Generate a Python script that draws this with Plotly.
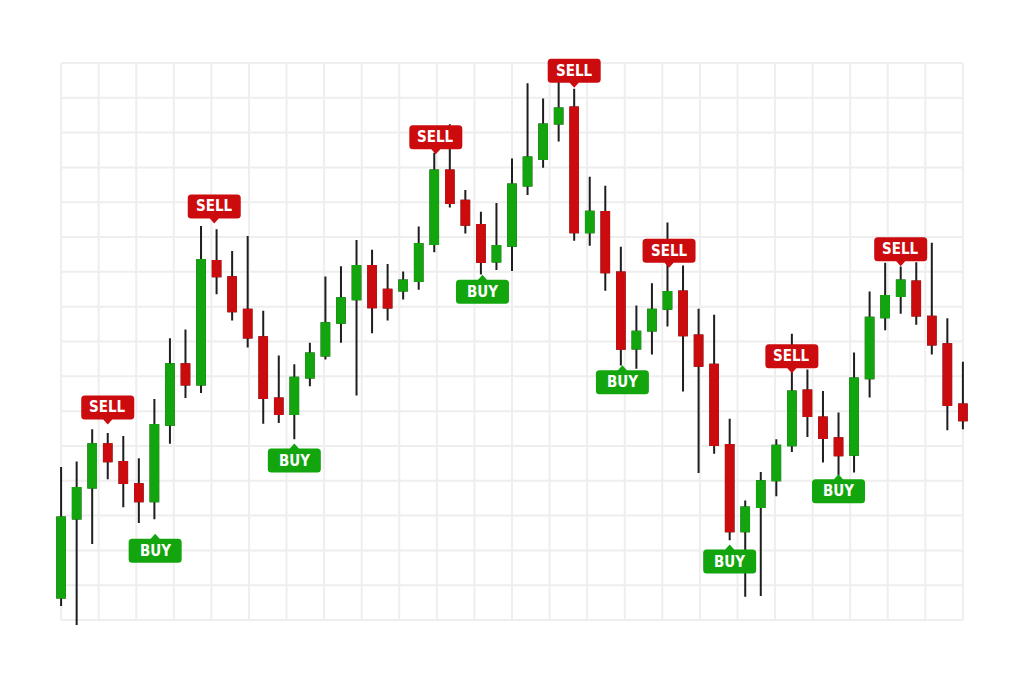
import plotly.graph_objects as go

# ---- data (price units) ----
open_ = [6.51, 29.16, 38.05, 50.47, 45.39, 39.00, 34.12, 56.12, 73.49, 67.67,
         103.14, 98.44, 89.09, 81.23, 63.66, 59.15, 69.68, 75.99, 85.36, 92.13,
         101.71, 94.83, 94.62, 97.41, 108.01, 129.12, 120.43, 113.46, 102.94, 107.53,
         124.82, 132.39, 142.60, 147.18, 111.34, 117.19, 99.79, 77.99, 83.15, 89.38,
         94.34, 81.72, 73.32, 50.27, 25.52, 32.49, 40.14, 50.18, 65.95, 58.21,
         52.19, 47.51, 69.48, 86.97, 93.10, 97.21, 87.08, 79.23, 61.94]
close = [29.45, 37.94, 50.47, 45.59, 39.37, 34.12, 56.00, 73.49, 67.67, 103.43,
         98.72, 88.69, 81.15, 63.74, 59.15, 69.59, 76.56, 85.25, 92.42, 101.71,
         89.84, 89.75, 97.49, 108.01, 129.12, 119.77, 113.55, 102.85, 107.44, 125.10,
         132.85, 142.31, 146.90, 111.34, 117.28, 99.87, 77.91, 82.78, 89.09, 94.25,
         81.81, 73.03, 50.27, 25.52, 32.32, 39.86, 50.09, 65.66, 58.58, 52.27,
         47.31, 69.39, 86.80, 93.10, 97.49, 87.46, 79.14, 61.74, 57.35]
high = [43.96, 45.51, 54.77, 53.71, 52.85, 46.45, 63.46, 80.95, 83.44, 113.18,
        112.20, 106.01, 110.31, 88.80, 75.99, 73.49, 79.63, 98.64, 101.59, 109.16,
        106.38, 102.28, 100.07, 113.06, 134.19, 142.42, 123.50, 117.28, 119.77, 132.56,
        154.18, 149.77, 154.84, 152.55, 127.31, 124.73, 107.24, 90.32, 96.72, 114.21,
        101.79, 89.38, 87.66, 57.83, 34.32, 42.52, 51.90, 82.21, 71.97, 65.75,
        59.64, 76.85, 94.34, 102.65, 101.51, 102.74, 108.39, 86.68, 74.18]
low = [4.01, -1.43, 21.88, 40.43, 32.40, 27.90, 28.96, 50.67, 63.74, 65.18,
       93.56, 86.02, 78.28, 56.40, 56.57, 51.90, 67.18, 74.84, 79.63, 64.52,
       82.38, 86.02, 92.04, 94.83, 105.61, 118.51, 111.05, 99.21, 100.56, 100.27,
       122.07, 129.89, 137.43, 108.96, 107.53, 94.54, 73.12, 72.17, 76.27, 84.30,
       65.66, 42.24, 47.80, 22.94, 6.68, 6.88, 35.56, 48.26, 52.56, 45.22,
       41.58, 42.35, 63.94, 83.24, 87.94, 84.79, 76.27, 54.48, 54.77]
idx = list(range(len(open_)))

# signal labels: position (candle index) and level of the pointer tip
sell_pos = [3.0, 9.85, 24.1, 33.0, 39.1, 47.0, 54.0]
sell_lvl = [56.2, 113.9, 133.8, 152.9, 101.2, 70.9, 101.6]
buy_pos = [6.05, 15.0, 27.1, 36.1, 43.0, 50.0]
buy_lvl = [24.8, 50.7, 99.2, 73.2, 21.7, 41.9]

# grid
grid_x = [i * 58 / 24 for i in range(25)]
grid_y = [i * 10 for i in range(17)]

GREEN = "#12a50d"
RED = "#cc0b0e"
WICK = "#1e1e1e"
GRID = "#eeeeee"

body_hi = [max(o, c) for o, c in zip(open_, close)]
body_lo = [min(o, c) for o, c in zip(open_, close)]

fig = go.Figure()
fig.add_trace(go.Candlestick(
    x=idx, open=open_, high=high, low=low, close=close,
    increasing=dict(line=dict(color=WICK, width=2), fillcolor=WICK),
    decreasing=dict(line=dict(color=WICK, width=2), fillcolor=WICK),
    whiskerwidth=0, hoverinfo="skip", showlegend=False))
fig.add_trace(go.Candlestick(
    x=idx, open=open_, high=body_hi, low=body_lo, close=close,
    increasing=dict(line=dict(color=GREEN, width=2), fillcolor=GREEN),
    decreasing=dict(line=dict(color=RED, width=2), fillcolor=RED),
    whiskerwidth=0, hoverinfo="skip", showlegend=False))

shapes = []
for gx in grid_x:
    shapes.append(dict(type="line", xref="x", yref="y", x0=gx, x1=gx,
                       y0=grid_y[0], y1=grid_y[-1], layer="below",
                       line=dict(color=GRID, width=2)))
for gy in grid_y:
    shapes.append(dict(type="line", xref="x", yref="y", x0=grid_x[0], x1=grid_x[-1],
                       y0=gy, y1=gy, layer="below",
                       line=dict(color=GRID, width=2)))


def bubble_path(s):
    """Rounded label box with a small pointer; pixel offsets from the tip.
    s = +1 box above the tip, s = -1 box below the tip."""
    w, h, r, g, pw = 26.5, 24, 3.5, 5, 4.5
    y0, y1 = s * g, s * (g + h)
    yr0, yr1 = s * (g + r), s * (g + h - r)
    return (f"M{-w + r},{y0} L{-pw},{y0} L0,0 L{pw},{y0} L{w - r},{y0} "
            f"Q{w},{y0} {w},{yr0} L{w},{yr1} Q{w},{y1} {w - r},{y1} "
            f"L{-w + r},{y1} Q{-w},{y1} {-w},{yr1} L{-w},{yr0} "
            f"Q{-w},{y0} {-w + r},{y0} Z")


FONT = "Liberation Sans Narrow, DejaVu Sans Condensed, Arial Narrow, sans-serif"
annotations = []
for txt, poss, lvls, col, s in (("SELL", sell_pos, sell_lvl, RED, 1),
                                ("BUY", buy_pos, buy_lvl, GREEN, -1)):
    for p, lv in zip(poss, lvls):
        shapes.append(dict(type="path", xref="x", yref="y",
                           xsizemode="pixel", ysizemode="pixel",
                           xanchor=p, yanchor=lv, path=bubble_path(s),
                           fillcolor=col, line=dict(width=0), layer="above"))
        annotations.append(dict(
            x=p, y=lv, xref="x", yref="y", text=txt, showarrow=False,
            yshift=s * 17, xanchor="center", yanchor="middle",
            font=dict(family=FONT, size=15, color="white", weight="bold")))

# the page body keeps its default 8px margin, so the figure is sized to fit
fig.update_layout(
    width=1016, height=675,
    margin=dict(l=22, r=30, t=41, b=49),
    paper_bgcolor="white", plot_bgcolor="white",
    boxgap=0.3, boxgroupgap=0.3,
    xaxis=dict(range=[-2, 60], showgrid=False, zeroline=False,
               showticklabels=False, ticks="", rangeslider=dict(visible=False),
               fixedrange=True),
    yaxis=dict(range=[-4, 164], showgrid=False, zeroline=False,
               showticklabels=False, ticks="", fixedrange=True),
    shapes=shapes, annotations=annotations,
)

fig.write_html("out.html", config={"displayModeBar": False})
